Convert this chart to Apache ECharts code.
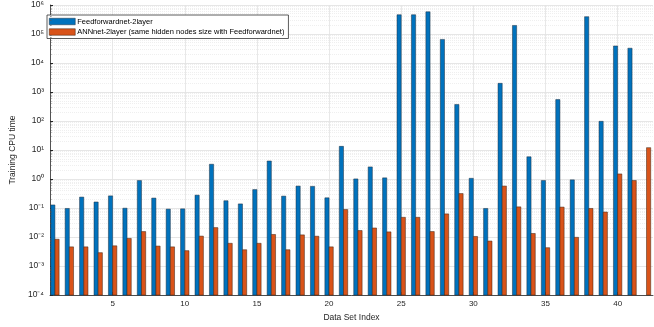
<!DOCTYPE html>
<html>
<head>
<meta charset="utf-8">
<script src="https://cdn.jsdelivr.net/npm/echarts@6/dist/echarts.min.js"></script>
<style>html,body{margin:0;padding:0;background:#fff}#c{width:654px;height:327px}</style>
</head>
<body>
<div id="c"></div>
<script>
const dataSetIndex = Array.from({length: 42}, (_, i) => i + 1);
const feedforward = [0.128, 0.097, 0.239, 0.162, 0.263, 0.099, 0.89, 0.221, 0.092, 0.094,
  0.279, 3.24, 0.179, 0.139, 0.434, 4.19, 0.258, 0.573, 0.56, 0.226,
  13.4, 1.01, 2.63, 1.1, 461000, 461000, 582000, 65000, 373, 1.06,
  0.097, 1995, 197000, 5.84, 0.89, 549, 0.94, 395000, 97.7, 38700,
  32400, null];
const annnet = [0.0084, 0.0046, 0.0046, 0.0029, 0.0050, 0.0090, 0.0155, 0.0049, 0.0046, 0.0034,
  0.0108, 0.0212, 0.0061, 0.00366, 0.0061, 0.0123, 0.00366, 0.0119, 0.0107, 0.0046,
  0.089, 0.0168, 0.0206, 0.0151, 0.048, 0.048, 0.0155, 0.063, 0.316, 0.0105,
  0.0073, 0.573, 0.110, 0.0133, 0.0043, 0.108, 0.0098, 0.097, 0.073, 1.50,
  0.89, 12.1];
const xTicks = [5, 10, 15, 20, 25, 30, 35, 40];
const yMin = 1e-4, yMax = 1e6;
const xMin = 0.66, xMax = 42.45;
const seriesNames = ['Feedforwardnet-2layer', 'ANNnet-2layer (same hidden nodes size with Feedforwardnet)'];

const sup = {'-':'\u207B','0':'\u2070','1':'\u00B9','2':'\u00B2','3':'\u00B3','4':'\u2074','5':'\u2075','6':'\u2076','7':'\u2077','8':'\u2078','9':'\u2079'};

const minorVals = [];
for (let e = -4; e < 6; e++) for (let k = 2; k <= 9; k++) minorVals.push(k * Math.pow(10, e));

const BAR_W = 4.2;
function barRenderer(side) {
  return function (params, api) {
    const y = api.value(1);
    if (y == null || isNaN(y)) return null;
    const top = api.coord([api.value(0), y]);
    const base = api.coord([api.value(0), yMin]);
    const x0 = side < 0 ? top[0] - BAR_W : top[0];
    return {
      type: 'rect',
      shape: {x: x0, y: top[1], width: BAR_W, height: base[1] - top[1]},
      style: api.style()
    };
  };
}

const chart = echarts.init(document.getElementById('c'), null, {renderer: 'canvas'});
const axisColor = '#262626';
chart.setOption({
  animation: false,
  backgroundColor: '#fff',
  textStyle: {fontFamily: 'Liberation Sans, Arial, sans-serif'},
  grid: {left: 33, right: 1, top: 5, bottom: 24.5},
  legend: {
    orient: 'vertical', left: 47, top: 15,
    itemWidth: 26, itemHeight: 6.5, itemGap: 2.5,
    padding: [2.5, 4, 2.5, 2],
    backgroundColor: '#fff', borderColor: '#333', borderWidth: 0.8, borderRadius: 0,
    textStyle: {fontSize: 7.5, color: '#000', padding: [0, 0, 0, -3]},
    itemStyle: {borderWidth: 0.5},
    icon: 'rect',
    data: seriesNames
  },
  xAxis: {
    type: 'value', min: xMin, max: xMax,
    name: 'Data Set Index', nameLocation: 'middle', nameGap: 13,
    nameTextStyle: {fontSize: 8.5, color: axisColor},
    axisLine: {lineStyle: {color: axisColor, width: 0.8}},
    axisTick: {inside: true, length: 3, customValues: xTicks, lineStyle: {color: axisColor}},
    axisLabel: {customValues: xTicks, fontSize: 8, color: axisColor, margin: 5},
    splitLine: {show: false}
  },
  yAxis: {
    type: 'log', logBase: 10, min: yMin, max: yMax, splitNumber: 10,
    name: 'Training CPU time', nameLocation: 'middle', nameGap: 27,
    nameTextStyle: {fontSize: 8.5, color: axisColor},
    axisLine: {show: true, lineStyle: {color: axisColor, width: 0.8}},
    axisTick: {show: true, inside: true, length: 3, lineStyle: {color: axisColor}},
    axisLabel: {
      fontSize: 8.5, color: axisColor, margin: 6,
      formatter: v => {
        const e = Math.round(Math.log10(v));
        return '10' + String(e).split('').map(c => sup[c]).join('');
      }
    },
    splitLine: {show: true, lineStyle: {color: '#dfdfdf', width: 0.8}}
  },
  series: [
    {
      type: 'line', data: [], silent: true, z: 0,
      markLine: {
        z: 0, silent: true, symbol: ['none', 'none'], label: {show: false}, animation: false,
        lineStyle: {type: [1, 1], color: '#e4e4e4', width: 0.6},
        data: minorVals.map(v => ({yAxis: v}))
          .concat(xTicks.map(v => ({xAxis: v, lineStyle: {type: 'solid', color: '#e2e2e2', width: 0.8}})))
      }
    },
    {
      type: 'line', data: [], silent: true, z: 5,
      markLine: {
        z: 5, silent: true, symbol: ['none', 'none'], label: {show: false}, animation: false,
        lineStyle: {type: 'solid', color: '#555', width: 0.6},
        data: minorVals.map(v => [{coord: [xMin, v]}, {coord: [xMin + 0.11, v]}])
      }
    },
    {
      name: seriesNames[0], type: 'custom', z: 2,
      renderItem: barRenderer(-1),
      encode: {x: 0, y: 1},
      data: dataSetIndex.map((x, i) => [x, feedforward[i]]),
      itemStyle: {color: '#0072BD', borderColor: '#1f2f3f', borderWidth: 0.5}
    },
    {
      name: seriesNames[1], type: 'custom', z: 2,
      renderItem: barRenderer(1),
      encode: {x: 0, y: 1},
      data: dataSetIndex.map((x, i) => [x, annnet[i]]),
      itemStyle: {color: '#D95319', borderColor: '#3a2010', borderWidth: 0.5}
    }
  ]
});
</script>
</body>
</html>
